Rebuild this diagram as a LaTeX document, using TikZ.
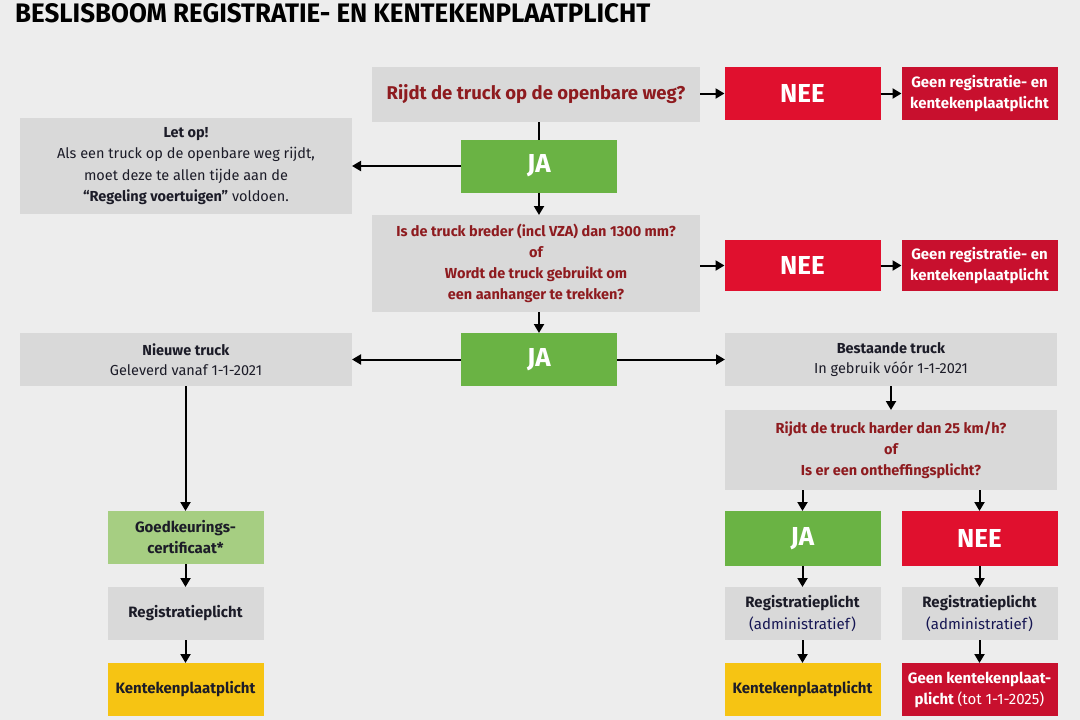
\documentclass[tikz,border=0pt]{standalone}
\usepackage{fontspec}
\setmainfont{Fira Sans}
\usetikzlibrary{arrows.meta}
\definecolor{bg}{HTML}{EDEDED}
\definecolor{boxgray}{HTML}{D9D9D9}
\definecolor{jagreen}{HTML}{6AB344}
\definecolor{lightgreen}{HTML}{A6CE82}
\definecolor{neered}{HTML}{E0102E}
\definecolor{geenred}{HTML}{C8102E}
\definecolor{qred}{HTML}{8E1B1F}
\definecolor{kyellow}{HTML}{F6C413}
\definecolor{txt}{HTML}{1C1C28}
\tikzset{
  box/.style={rectangle, inner sep=0pt, outer sep=0pt, align=center, minimum width=#1},
  graybox/.style={box=#1, fill=boxgray, text=txt},
  ques/.style={graybox=#1, text=qred, font=\bfseries\fontsize{14.5}{21}\selectfont},
  jabox/.style={box=156pt, minimum height=53pt, fill=jagreen, text=white, font=\fontsize{26}{28}\selectfont\bfseries},
  neebox/.style={box=156pt, minimum height=53pt, fill=neered, text=white, font=\fontsize{26}{28}\selectfont\bfseries},
  geenbox/.style={box=156pt, minimum height=53pt, fill=geenred, text=white, font=\bfseries\fontsize{15}{21}\selectfont},
  small/.style={box=156pt, minimum height=53pt, font=\bfseries\fontsize{15}{21}\selectfont, text=txt},
  arr/.style={-{Triangle[length=9pt,width=10pt]}, line width=2pt, black},
  ln/.style={line width=2pt, black}
}
\begin{document}
\begin{tikzpicture}[x=1pt,y=-1pt]
\fill[bg] (0,0) rectangle (1080,720);
\useasboundingbox (0,0) rectangle (1080,720);
% title
\node[anchor=north west, inner sep=0pt] (title) at (15,3) {\resizebox{635pt}{19pt}{\bfseries BESLISBOOM REGISTRATIE- EN KENTEKENPLAATPLICHT}};
% row 1
\node[ques=328pt, minimum height=55pt, font=\fontsize{18.5}{21}\selectfont\bfseries] (q1) at (536,94.5) {Rijdt de truck op de openbare weg?};
\node[neebox] (nee1) at (802.5,93.5) {NEE};
\node[geenbox] (geen1) at (979.5,93.5) {Geen registratie- en\\kentekenplaatplicht};
% let op
\node[graybox=332pt, minimum height=96pt, font=\fontsize{14.5}{21.5}\selectfont] (letop) at (186,166) {\textbf{Let op!}\\Als een truck op de openbare weg rijdt,\\moet deze te allen tijde aan de\\\textbf{“Regeling voertuigen”} voldoen.};
\node[jabox] (ja1) at (539,166) {JA};
% row 2
\node[ques=328pt, minimum height=97pt] (q2) at (536,263.5) {Is de truck breder (incl VZA) dan 1300 mm?\\of\\Wordt de truck gebruikt om\\een aanhanger te trekken?};
\node[neebox, minimum height=51pt] (nee2) at (802.5,265.5) {NEE};
\node[geenbox, minimum height=51pt] (geen2) at (979.5,265.5) {Geen registratie- en\\kentekenplaatplicht};
% row 3
\node[jabox] (ja2) at (539,359.5) {JA};
\node[graybox=332pt, minimum height=53pt, font=\fontsize{14.5}{20}\selectfont] (nieuw) at (186,359.5) {\textbf{Nieuwe truck}\\Geleverd vanaf 1-1-2021};
\node[graybox=332pt, minimum height=53pt, font=\fontsize{14.5}{20}\selectfont] (best) at (891,359.5) {\textbf{Bestaande truck}\\In gebruik vóór 1-1-2021};
\node[ques=332pt, minimum height=80pt] (q3) at (891,450) {Rijdt de truck harder dan 25 km/h?\\of\\Is er een ontheffingsplicht?};
% left column
\node[small, fill=lightgreen] (goed) at (185.5,537.5) {Goedkeurings-\\certificaat*};
\node[small, fill=boxgray] (reg1) at (185.5,613.5) {Registratieplicht};
\node[small, fill=kyellow] (kent1) at (185.5,689.5) {Kentekenplaatplicht};
% right columns
\node[jabox, minimum height=55pt] (ja3) at (802.5,538.5) {JA};
\node[neebox, minimum height=55pt] (nee3) at (979.5,538.5) {NEE};
\node[small, fill=boxgray] (reg2) at (802.5,613.5) {Registratieplicht\\\mdseries\color{txt!80!blue}(administratief)};
\node[small, fill=boxgray] (reg3) at (979.5,613.5) {Registratieplicht\\\mdseries\color{txt!80!blue}(administratief)};
\node[small, fill=kyellow] (kent2) at (802.5,689.5) {Kentekenplaatplicht};
\node[small, fill=geenred, text=white] (geen3) at (979.5,689.5) {Geen kentekenplaat-\\plicht {\mdseries(tot 1-1-2025)}};
% connectors
\draw[arr] (q1.east |- nee1) -- (nee1.west);
\draw[arr] (nee1) -- (geen1);
\draw[ln] (q1.south -| ja1) -- (ja1.north);
\draw[arr] (ja1.west) -- (letop.east |- ja1);
\draw[arr] (ja1.south) -- (q2.north -| ja1);
\draw[arr] (q2.east |- nee2) -- (nee2.west);
\draw[arr] (nee2) -- (geen2);
\draw[arr] (q2.south -| ja2) -- (ja2.north);
\draw[arr] (ja2) -- (nieuw);
\draw[arr] (ja2) -- (best);
\draw[arr] (best) -- (q3);
\draw[arr] (nieuw.south -| goed) -- (goed.north);
\draw[arr] (goed) -- (reg1);
\draw[arr] (reg1) -- (kent1);
\draw[arr] (q3.south -| ja3) -- (ja3.north);
\draw[arr] (q3.south -| nee3) -- (nee3.north);
\draw[arr] (ja3) -- (reg2);
\draw[arr] (nee3) -- (reg3);
\draw[arr] (reg2) -- (kent2);
\draw[arr] (reg3) -- (geen3);
\end{tikzpicture}
\end{document}
